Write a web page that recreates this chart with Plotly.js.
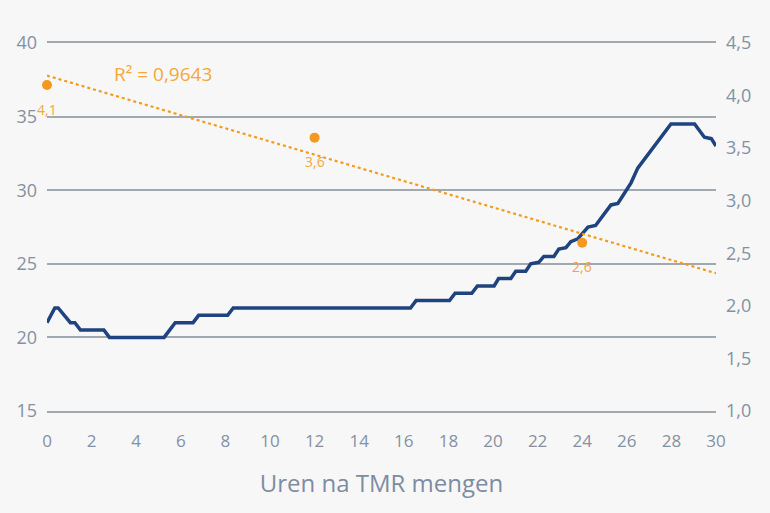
<!DOCTYPE html>
<html>
<head>
<meta charset="utf-8">
<script src="https://cdn.plot.ly/plotly-3.0.1.min.js"></script>
<style>
  html, body { margin: 0; padding: 0; background: #f7f7f7; }
  #chart { width: 770px; height: 513px; }
</style>
</head>
<body>
<div id="chart"></div>
<script>
// Blue temperature line (left axis)
const lineX = [0, 0.35, 0.5, 1.05, 1.25, 1.5, 2.55, 2.8, 5.25, 5.75, 6.55, 6.8, 8.1, 8.35,
  16.3, 16.55, 18.05, 18.3, 19.05, 19.3, 20.05, 20.25, 20.8, 21.02, 21.47, 21.69, 22.05, 22.28,
  22.73, 22.95, 23.27, 23.49, 23.8, 24.26, 24.6, 25.29, 25.6, 26.19, 26.49, 27.98, 29.04,
  29.48, 29.79, 30];
const lineY = [21, 22, 22, 21, 21, 20.5, 20.5, 20, 20, 21, 21, 21.5, 21.5, 22,
  22, 22.5, 22.5, 23, 23, 23.5, 23.5, 24, 24, 24.5, 24.5, 25, 25.1, 25.5,
  25.5, 26, 26.1, 26.5, 26.7, 27.5, 27.6, 29, 29.1, 30.5, 31.5, 34.5, 34.5,
  33.6, 33.5, 33];

// Orange points (right axis)
const dotX = [0, 12, 24];
const dotY = [4.1, 3.6, 2.6];
const dotLabels = ["4,1", "3,6", "2,6"];

// Linear trend line (right axis)
const trendX = [0, 30];
const trendY = [4.19, 2.31];
const r2Text = "R² = 0,9643";

// Ticks
const xTicks = [0, 2, 4, 6, 8, 10, 12, 14, 16, 18, 20, 22, 24, 26, 28, 30];
const yTicks = [15, 20, 25, 30, 35, 40];
const y2Ticks = [1.0, 1.5, 2.0, 2.5, 3.0, 3.5, 4.0, 4.5];

const FONT = "'Open Sans', sans-serif";
const TICKCOL = "#8491a3";
const ORANGE = "#f39a1e";
const ORANGE_TXT = "#f4a73a";
const GRID = "#a2a9ae";

const traces = [
  {
    x: lineX, y: lineY, type: "scatter", mode: "lines", yaxis: "y",
    line: { color: "#1f437e", width: 3.5 }, hoverinfo: "skip"
  },
  {
    x: trendX, y: trendY, type: "scatter", mode: "lines", yaxis: "y2",
    line: { color: ORANGE, width: 2.2, dash: "dot" }, hoverinfo: "skip"
  },
  {
    x: dotX, y: dotY, type: "scatter", mode: "markers", yaxis: "y2",
    marker: { color: ORANGE, size: 10 }, cliponaxis: false, hoverinfo: "skip"
  }
];

const annotations = dotX.map((x, i) => ({
  x: x, y: dotY[i], xref: "x", yref: "y2", text: dotLabels[i],
  showarrow: false, yshift: -24,
  font: { family: FONT, size: 14, color: ORANGE_TXT }
}));
annotations.push({
  x: 5.2, y: 4.205, xref: "x", yref: "y2", text: r2Text, showarrow: false,
  font: { family: FONT, size: 19, color: ORANGE_TXT }
});

const layout = {
  width: 770, height: 513,
  paper_bgcolor: "#f7f7f7", plot_bgcolor: "#f7f7f7",
  margin: { l: 47, r: 54, t: 43, b: 102 },
  showlegend: false,
  separators: ",.",
  font: { family: FONT, color: TICKCOL },
  xaxis: {
    range: [0, 30], tickvals: xTicks, ticktext: xTicks.map(String),
    showgrid: false, zeroline: false, ticks: "",
    showline: true, mirror: true, linecolor: GRID, linewidth: 2,
    ticklabelstandoff: 14,
    tickfont: { family: FONT, size: 17, color: TICKCOL },
    title: { text: "Uren na TMR mengen", standoff: 24,
      font: { family: FONT, size: 24, color: "#7d8ca1" } }
  },
  yaxis: {
    range: [15, 40], tickvals: yTicks, ticktext: yTicks.map(String),
    showgrid: true, gridcolor: GRID, gridwidth: 2,
    zeroline: false, showline: false, ticks: "",
    ticklabelstandoff: 9,
    tickfont: { family: FONT, size: 18, color: TICKCOL }
  },
  yaxis2: {
    range: [1, 4.5], overlaying: "y", side: "right",
    tickvals: y2Ticks, tickformat: ".1f",
    showgrid: false, zeroline: false, showline: false, ticks: "",
    ticklabelstandoff: 9,
    tickfont: { family: FONT, size: 18, color: TICKCOL }
  },
  annotations: annotations
};

Plotly.newPlot("chart", traces, layout, { staticPlot: true, displayModeBar: false });
</script>
</body>
</html>
